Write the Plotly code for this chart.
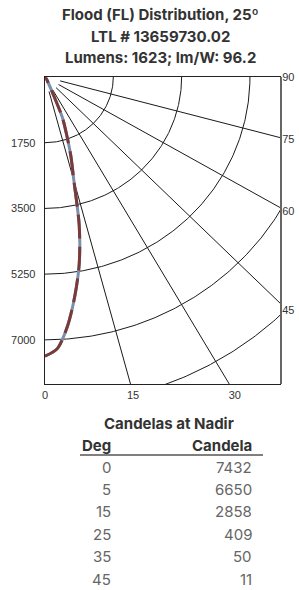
import numpy as np
import plotly.graph_objects as go

# ---------------- data ----------------
TITLE_LINES = ["Flood (FL) Distribution, 25º", "LTL # 13659730.02", "Lumens: 1623; lm/W: 96.2"]

# candela curve (vertical angle in degrees, candela)
CURVE_DEG = [0, 2.5, 5, 7.5, 10, 12.5, 15, 17.5, 20, 22.5, 25, 30, 35, 40, 45, 55, 65, 75, 90]
PLANE_A_CD = [7432, 7240, 6650, 5870, 5050, 4050, 2858, 2200, 1600, 1150, 409, 130, 50, 22, 11, 5, 2, 1, 0]
PLANE_B_CD = [7432, 7240, 6650, 5870, 5050, 4050, 2858, 2200, 1600, 1150, 409, 130, 50, 22, 11, 5, 2, 1, 0]

# grid
ARC_RADII = [1750, 3500, 5250, 7000, 8750]
RADIAL_ANGLES = [15, 30, 45, 60, 75]
Y_TICKS = [1750, 3500, 5250, 7000]
BOTTOM_LABEL_ANGLES = [0, 15, 30]
RIGHT_LABEL_ANGLES = [90, 75, 60, 45]

# table
TABLE_TITLE = "Candelas at Nadir"
TABLE_HEAD = ["Deg", "Candela"]
TABLE_DEG = [0, 5, 15, 25, 35, 45]
TABLE_CD = [7432, 6650, 2858, 409, 50, 11]

# ---------------- layout geometry ----------------
W, H = 299, 590
PLOT_L, PLOT_R, PLOT_T, PLOT_B = 45, 280, 77, 384
ML, MR, MT, MB = PLOT_L, W - PLOT_R, PLOT_T, H - PLOT_B
PW, PH = PLOT_R - PLOT_L, PLOT_B - PLOT_T
YMAX = 1.1 * max(PLANE_A_CD)
XMAX = 6020
LABEL_PAD = 1.03


def px_x(px):
    return (px - PLOT_L) / PW


def px_y(py):
    return (PLOT_B - py) / PH


def polar_xy(deg, cd):
    t = np.radians(np.asarray(deg, dtype=float))
    c = np.asarray(cd, dtype=float)
    return c * np.sin(t), c * np.cos(t)


fig = go.Figure()

# arcs
ax_, ay_ = [], []
th = np.linspace(0, 90, 181)
for r in ARC_RADII:
    x, y = polar_xy(th, np.full_like(th, r))
    ax_ += list(x) + [None]
    ay_ += list(y) + [None]
fig.add_trace(go.Scatter(x=ax_, y=ay_, mode="lines", line=dict(color="#1a1a1a", width=1),
                         hoverinfo="skip", showlegend=False))

# radial lines
rx, ry = [], []
for a in RADIAL_ANGLES:
    x, y = polar_xy([a, a], [400, 14000])
    rx += list(x) + [None]
    ry += list(y) + [None]
fig.add_trace(go.Scatter(x=rx, y=ry, mode="lines", line=dict(color="#1a1a1a", width=1),
                         hoverinfo="skip", showlegend=False))

# candela curves
xa, ya = polar_xy(CURVE_DEG, PLANE_A_CD)
xb, yb = polar_xy(CURVE_DEG, PLANE_B_CD)
fig.add_trace(go.Scatter(x=xa, y=ya, mode="lines", line=dict(color="#7890ad", width=3, shape="spline", smoothing=0.8),
                         showlegend=False))
fig.add_trace(go.Scatter(x=xb, y=yb, mode="lines",
                         line=dict(color="#7b3a3a", width=3, dash="24px,8px", shape="spline", smoothing=0.8),
                         showlegend=False))

# dummy trace for right axis
fig.add_trace(go.Scatter(x=[0], y=[0], yaxis="y2", mode="markers", marker=dict(opacity=0),
                         hoverinfo="skip", showlegend=False))

bottom_vals = [YMAX * np.tan(np.radians(a)) * LABEL_PAD for a in BOTTOM_LABEL_ANGLES]
right_vals = [XMAX * np.cos(np.radians(a)) / np.sin(np.radians(a)) * LABEL_PAD for a in RIGHT_LABEL_ANGLES]

tickfont = dict(family="Liberation Sans, Arial, sans-serif", size=11, color="#333")

fig.update_layout(
    width=W, height=H,
    margin=dict(l=ML, r=MR, t=MT, b=MB, pad=0, autoexpand=False),
    paper_bgcolor="white", plot_bgcolor="white",
    xaxis=dict(range=[0, XMAX], tickvals=bottom_vals, ticktext=[str(a) for a in BOTTOM_LABEL_ANGLES],
               showgrid=False, zeroline=False, showline=True, linecolor="#222", linewidth=1.3,
               mirror=True, ticks="", tickfont=tickfont, fixedrange=True, automargin=False),
    yaxis=dict(range=[YMAX, 0], tickvals=Y_TICKS, ticktext=[str(v) for v in Y_TICKS],
               showgrid=False, zeroline=False, showline=True, linecolor="#222", linewidth=1.3,
               mirror=True, ticks="", tickfont=tickfont, ticklabelstandoff=6, fixedrange=True,
               automargin=False),
    yaxis2=dict(range=[YMAX, 0], overlaying="y", side="right", anchor="x",
                tickvals=right_vals, ticktext=[str(a) for a in RIGHT_LABEL_ANGLES],
                showgrid=False, zeroline=False, showline=True, linecolor="#666", linewidth=2,
                ticks="", tickfont=tickfont, ticklabelstandoff=-2, fixedrange=True, automargin=False),
)

ann = []
title_font = dict(family="Inter, Roboto, sans-serif", size=15, color="#333")
for i, t in enumerate(TITLE_LINES):
    ann.append(dict(text="<b>%s</b>" % t, x=px_x(160), y=px_y(15 + 21.5 * i), xref="paper", yref="paper",
                    xanchor="center", yanchor="middle", showarrow=False, font=title_font, borderpad=0))

head_font = dict(family="Inter, Roboto, sans-serif", size=15, color="#333")
row_font = dict(family="Inter, Roboto, sans-serif", size=15, color="#666")
ann.append(dict(text="<b>%s</b>" % TABLE_TITLE, x=px_x(169), y=px_y(423), xref="paper", yref="paper",
                xanchor="center", yanchor="middle", showarrow=False, font=head_font))
ann.append(dict(text="<b>%s</b>" % TABLE_HEAD[0], x=px_x(80), y=px_y(445), xref="paper", yref="paper",
                xanchor="left", yanchor="middle", showarrow=False, font=head_font))
ann.append(dict(text="<b>%s</b>" % TABLE_HEAD[1], x=px_x(254), y=px_y(445), xref="paper", yref="paper",
                xanchor="right", yanchor="middle", showarrow=False, font=head_font))
for i, (d, c) in enumerate(zip(TABLE_DEG, TABLE_CD)):
    yy = px_y(467 + 22.4 * i)
    ann.append(dict(text=str(d), x=px_x(113), y=yy, xref="paper", yref="paper",
                    xanchor="right", yanchor="middle", showarrow=False, font=row_font))
    ann.append(dict(text=str(c), x=px_x(254), y=yy, xref="paper", yref="paper",
                    xanchor="right", yanchor="middle", showarrow=False, font=row_font))
fig.update_layout(annotations=ann)

fig.add_shape(type="line", xref="paper", yref="paper", x0=px_x(80), x1=px_x(263), y0=px_y(455), y1=px_y(455),
              line=dict(color="#555", width=1.5))

# remove the default page margin so the 299x590 figure fills the window exactly
fig.write_html("out.html", config={"displayModeBar": False, "staticPlot": True},
               post_script="document.body.style.margin='0px';")
